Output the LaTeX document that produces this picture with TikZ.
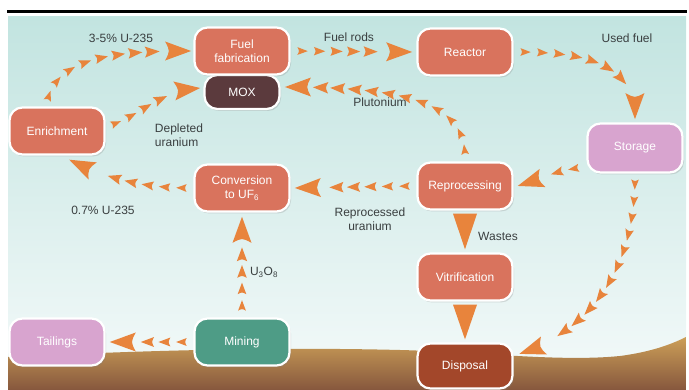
\documentclass[tikz,border=0pt]{standalone}
\usepackage{fontspec}
\setmainfont{Liberation Sans}
\usetikzlibrary{decorations.markings,shadows}
\definecolor{nsalmon}{HTML}{D9735D}
\definecolor{npink}{HTML}{D8A4CF}
\definecolor{nteal}{HTML}{4E9C86}
\definecolor{nmox}{HTML}{5B3A3D}
\definecolor{ndisp}{HTML}{A3472A}
\definecolor{conec}{HTML}{E8843C}
\definecolor{labc}{HTML}{3A3F40}
\definecolor{bgtop}{HTML}{C2E4E0}
\definecolor{bgmid}{HTML}{E0F0EF}
\definecolor{bgbot}{HTML}{F5FAFA}
\definecolor{gtop}{HTML}{CC9F58}
\definecolor{gbot}{HTML}{86573D}
\newcommand\conemark{%
  \pgfmathsetmacro\dd{\pgfkeysvalueof{/pgf/decoration/mark info/distance from start}}%
  \pgfmathsetmacro\lll{\pgfdecoratedpathlength}%
  \pgfmathparse{\dd < \lll - 36 ? 1 : 0}%
  \ifnum\pgfmathresult=1
    \pgfmathsetmacro\sc{0.62+0.4*\dd/\lll}%
    \fill[conec,scale=\sc] (-8pt,-6pt) -- (8pt,0pt) -- (-8pt,6pt) .. controls (-5pt,0pt) .. cycle;
  \fi}
\tikzset{
  box/.style={rounded corners=13pt, draw=white, line width=2.2pt,
    minimum width=95pt, minimum height=47pt, text=white, align=center,
    font=\fontsize{12}{14}\selectfont, inner sep=2pt,
    drop shadow={opacity=0.25, shadow xshift=1.5pt, shadow yshift=-2pt}},
  salmon/.style={box, fill=nsalmon},
  pinkbox/.style={box, fill=npink},
  lab/.style={text=labc, font=\fontsize{12}{14}\selectfont, inner sep=0pt},
  flow/.style={postaction={decorate}, decoration={markings,
    mark=between positions 8pt and 1 step 17pt with {\conemark},
    mark=at position 0.998 with {\fill[conec] (-26pt,-9.5pt) -- (0pt,0pt) -- (-26pt,9.5pt) .. controls (-21pt,0pt) .. cycle;}}},
  bigcone/.style={fill=conec}
}
\begin{document}
\begin{tikzpicture}[x=1pt,y=-1pt]
\useasboundingbox (0,0) rectangle (689,390);
% frame
\fill[black] (7,10) rectangle (687,13.5);
\shade[top color=bgtop, middle color=bgmid, bottom color=bgbot] (8,17) rectangle (686,390);
\shade[top color=gtop, bottom color=gbot] (8,357) .. controls (150,350) and (280,347) .. (400,350)
  .. controls (480,352) and (560,362) .. (620,356) .. controls (650,352) and (670,345) .. (686,337)
  -- (686,390) -- (8,390) -- cycle;
% nodes
\node[box, fill=nmox, minimum width=75pt, minimum height=34pt] (mox) at (242,92) {\raisebox{-3pt}{MOX}};
\node[salmon] (fab) at (242,51) {Fuel\\fabrication};
\node[salmon] (reactor) at (465,52) {Reactor};
\node[salmon] (enrich) at (57,131) {Enrichment};
\node[pinkbox, minimum height=49pt] (storage) at (635,148) {Storage};
\node[salmon] (conv) at (242,188) {Conversion\\to UF\textsubscript{6}};
\node[salmon] (repro) at (465,186) {Reprocessing};
\node[salmon] (vitr) at (465,277) {Vitrification};
\node[pinkbox] (tail) at (57,342) {Tailings};
\node[box, fill=nteal] (mining) at (242,342) {Mining};
\node[box, fill=ndisp, minimum height=45pt] (disp) at (465,366) {Disposal};
% labels
\node[lab] (l1) at (121,38) {3-5\% U-235};
\node[lab] (l2) at (349,37) {Fuel rods};
\node[lab] (l3) at (627,38) {Used fuel};
\node[lab, align=left] (l4) at (179,135) {Depleted\\uranium};
\node[lab] (l5) at (380,102) {Plutonium};
\node[lab] (l6) at (103,210) {0.7\% U-235};
\node[lab, align=center] (l7) at (370,219) {Reprocessed\\uranium};
\node[lab] (l8) at (264,272) {U\textsubscript{3}O\textsubscript{8}};
\node[lab] (l9) at (498,236) {Wastes};
% connectors
\coordinate (dend) at (519,354);
\path[flow] ([xshift=-10pt,yshift=3pt]enrich.north) .. controls +(8,-48) and +(-70,0) .. ([xshift=-2pt]fab.west);
\path[flow] ([xshift=3pt,yshift=5pt]enrich.east) .. controls +(35,-12) and +(-45,5) .. ([xshift=-3pt,yshift=4pt]mox.west);
\path[flow] ([xshift=4pt]fab.east) -- ([xshift=-4pt]reactor.west);
\path[flow] ([xshift=4pt]reactor.east) .. controls +(70,0) and +(0,-55) .. ([yshift=3pt]storage.north);
\path[flow] ([yshift=4pt]repro.north) .. controls +(0,-55) and +(120,0) .. ([xshift=4pt,yshift=5pt]mox.east);
\path[flow] ([xshift=-5pt,yshift=6pt]storage.south west) .. controls +(-25,3) and +(25,-8) .. ([xshift=4pt]repro.east);
\path[flow] ([xshift=-4pt]repro.west) -- ([xshift=4pt]conv.west -| conv.east);
\path[flow] ([xshift=-4pt]conv.west) .. controls +(-60,0) and +(25,12) .. ([xshift=12pt,yshift=-4pt]enrich.south);
\path[flow] ([yshift=4pt]mining.south |- mining.north) -- ([yshift=-4pt]conv.south);
\path[flow] ([xshift=-4pt]mining.west) -- ([xshift=4pt]tail.east);
\path[flow] ([yshift=-3pt]storage.south) .. controls (635,270) and (590,330) .. (dend);
\fill[bigcone] ([xshift=-12pt,yshift=-3pt]repro.south) -- ([xshift=12pt,yshift=-3pt]repro.south) -- ([yshift=3pt]vitr.north) -- cycle;
\fill[bigcone] ([xshift=-12pt,yshift=-3pt]vitr.south) -- ([xshift=12pt,yshift=-3pt]vitr.south) -- ([yshift=3pt]disp.north) -- cycle;
\end{tikzpicture}
\end{document}
